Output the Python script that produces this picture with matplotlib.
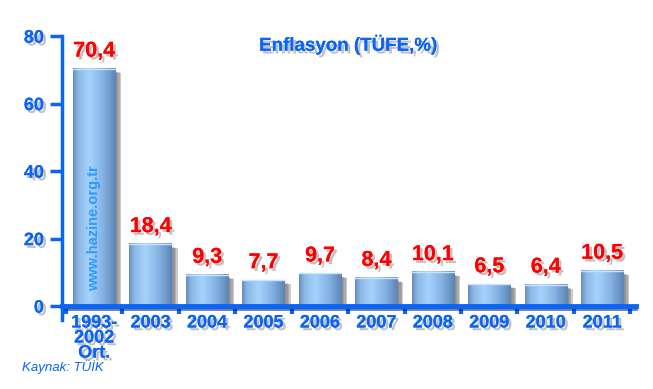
import matplotlib
matplotlib.use("Agg")
import matplotlib.pyplot as plt
import matplotlib.patheffects as pe
import numpy as np

# ---- data ----
categories = ["1993-\n2002\nOrt.", "2003", "2004", "2005", "2006",
              "2007", "2008", "2009", "2010", "2011"]
inflation = [70.4, 18.4, 9.3, 7.7, 9.7, 8.4, 10.1, 6.5, 6.4, 10.5]
value_labels = ["70,4", "18,4", "9,3", "7,7", "9,7", "8,4", "10,1", "6,5", "6,4", "10,5"]
y_ticks = [0, 20, 40, 60, 80]

BLUE = "#0a64f5"
RED = "#ff0000"
FONT = "Liberation Sans"
shadow = [pe.withSimplePatchShadow(offset=(2, -2), shadow_rgbFace="#777777", alpha=0.45), pe.Normal()]

fig = plt.figure(figsize=(6.53, 3.89), dpi=100)
ax = fig.add_axes([0.095, 0.213, 0.879, 0.694])

x = np.arange(len(inflation))
w = 0.75

# cylinder-like horizontal gradient for the bars
stops = np.array([0.0, 0.12, 0.38, 0.7, 1.0])
cols = np.array([[0x66, 0x8f, 0xc0], [0x8c, 0xb8, 0xe6], [0xa6, 0xd2, 0xfc],
                 [0x84, 0xb2, 0xe2], [0x5c, 0x84, 0xb4]]) / 255.0
t = np.linspace(0, 1, 64)
grad = np.stack([np.interp(t, stops, cols[:, k]) for k in range(3)], axis=-1)[None, :, :]

for xi, v in zip(x, inflation):
    # soft grey drop shadow, a few layers to fake the blur
    for k, a in enumerate([0.12, 0.16, 0.22, 0.28]):
        off = 0.03 + 0.025 * k
        ax.bar(xi + off, v - 0.5 - 0.15 * k, width=w, bottom=-0.3, color="#404040",
               alpha=a, linewidth=0, zorder=1)
    ax.imshow(grad, extent=(xi - w / 2, xi + w / 2, 0, v), aspect="auto",
              interpolation="bilinear", zorder=2)
    ax.plot([xi - w / 2, xi + w / 2], [v, v], color="#c8e4ff", lw=1, zorder=3)

for xi, v, lab in zip(x, inflation, value_labels):
    ax.annotate(lab, (xi, v), xytext=(0, 5), textcoords="offset points",
                ha="center", va="bottom", color=RED, fontsize=15.5,
                fontweight="bold", family=FONT, path_effects=shadow, zorder=5)

# watermark on the first bar
ax.text(x[0], 23, "www.hazine.org.tr", rotation=90, ha="center", va="center",
        color="#2a9cff", fontsize=10.5, fontweight="bold", family=FONT, zorder=4)

ax.set_xlim(-0.57, len(inflation) - 0.4)
ax.set_ylim(0, 80)

for s in ["top", "right"]:
    ax.spines[s].set_visible(False)
ax.spines["left"].set_color(BLUE)
ax.spines["left"].set_linewidth(2.5)
ax.spines["left"].set_bounds(-4, 80)
ax.spines["bottom"].set_color(BLUE)
ax.spines["bottom"].set_linewidth(3.5)
ax.spines["bottom"].set_zorder(6)
ax.spines["left"].set_zorder(6)
ax.axhline(-0.9, color="#002080", lw=2, alpha=0.6, zorder=5, clip_on=False)

ax.set_yticks(y_ticks)
ax.tick_params(axis="y", length=9, width=2.5, color=BLUE, pad=4)
ax.set_xticks(x)
ax.set_xticklabels(categories, linespacing=0.85)
ax.set_xticks(list(np.arange(len(inflation) + 1) - 0.5), minor=True)
ax.tick_params(axis="x", which="major", length=0, pad=6)
ax.tick_params(axis="x", which="minor", length=6, width=3, color=BLUE, direction="out")

for lbl in ax.get_xticklabels() + ax.get_yticklabels():
    lbl.set_color(BLUE)
    lbl.set_fontsize(13)
    lbl.set_fontweight("bold")
    lbl.set_family(FONT)
    lbl.set_path_effects(shadow)
for lbl in ax.get_xticklabels():
    lbl.set_verticalalignment("top")

fig.text(0.533, 0.885, "Enflasyon (TÜFE,%)", ha="center", va="center",
         color=BLUE, fontsize=13.5, fontweight="bold", family=FONT,
         path_effects=shadow)
fig.text(0.034, 0.056, "Kaynak: TÜİK", ha="left", va="center", color=BLUE,
         fontsize=9.5, style="italic", family=FONT)

fig.savefig("out.png", dpi=100)
